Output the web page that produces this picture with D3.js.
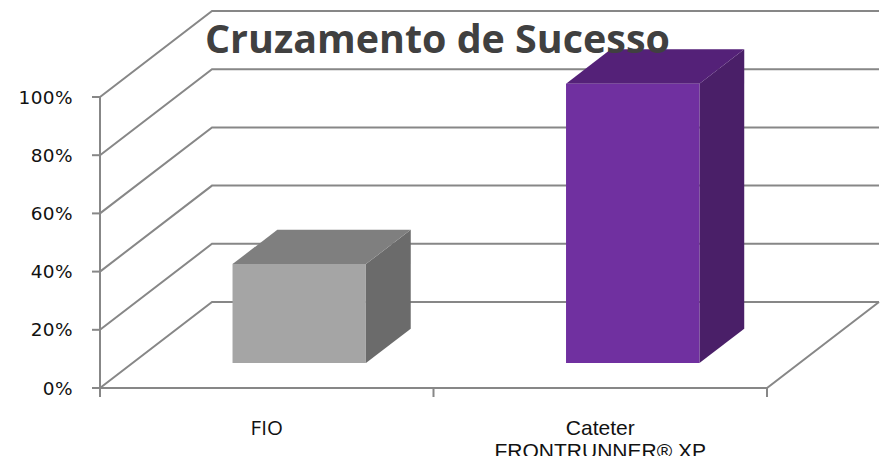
<!DOCTYPE html>
<html>
<head>
<meta charset="utf-8">
<script src="https://cdn.jsdelivr.net/npm/d3@7"></script>
<style>
  html, body { margin: 0; padding: 0; background: #fff; overflow: hidden; }
</style>
</head>
<body>
<svg id="chart"></svg>
<script>
// chart data
const categories = ["FIO", "Cateter\nFRONTRUNNER® XP"];
const values = [0.34, 0.96];
const yTicks = [0, 0.2, 0.4, 0.6, 0.8, 1.0];
const titleText = "Cruzamento de Sucesso";

// colours per bar: front, top, side
const barColors = [
    {front: "#a5a5a5", top: "#7f7f7f", side: "#6b6b6b"},
    {front: "#7030a0", top: "#542178", side: "#4a1f68"}
];

const width = 886, height = 456;
const svg = d3.select("#chart").attr("width", width).attr("height", height);

// 3d depth offset of the back wall
const DX = 112, DY = -86;
const proj = (x, y, d) => [x + d * DX, y + d * DY];

const xScale = d3.scaleBand()
    .domain(categories)
    .range([100, 767]);

const yScale = d3.scaleLinear()
    .domain([0, 1])
    .range([388, 97]);

const gridColor = "#878787";

// back wall + side gridlines
const grid = svg.append("g").attr("class", "grid");
grid.selectAll("polyline")
    .data(yTicks).enter()
    .append("polyline")
    .attr("fill", "none")
    .attr("stroke", gridColor)
    .attr("stroke-width", 2)
    .attr("points", t => {
        const y = yScale(t);
        const a = proj(100, y, 0), b = proj(100, y, 1), c = proj(767, y, 1);
        return [a, b, c].map(p => p.join(",")).join(" ");
    });

// floor front and right edges
const x0 = xScale.range()[0], x1 = xScale.range()[1];
grid.append("polyline")
    .attr("fill", "none")
    .attr("stroke", gridColor)
    .attr("stroke-width", 2)
    .attr("points", [[x0, yScale(0)], [x1, yScale(0)], proj(x1, yScale(0), 1)].map(p => p.join(",")).join(" "));

// vertical axis line
grid.append("line")
    .attr("stroke", gridColor)
    .attr("stroke-width", 2)
    .attr("x1", x0).attr("x2", x0)
    .attr("y1", yScale(1)).attr("y2", yScale(0));

// y ticks
grid.selectAll("line.ytick")
    .data(yTicks).enter()
    .append("line")
    .attr("class", "ytick")
    .attr("stroke", gridColor)
    .attr("stroke-width", 2)
    .attr("x1", x0 - 8).attr("x2", x0)
    .attr("y1", t => yScale(t)).attr("y2", t => yScale(t));

// x ticks on band edges
const xEdges = categories.map(c => xScale(c)).concat([x1]);
grid.selectAll("line.xtick")
    .data(xEdges).enter()
    .append("line")
    .attr("class", "xtick")
    .attr("stroke", gridColor)
    .attr("stroke-width", 2)
    .attr("x1", d => d).attr("x2", d => d)
    .attr("y1", yScale(0)).attr("y2", yScale(0) + 9);

// y labels
svg.append("g")
    .selectAll("text")
    .data(yTicks).enter()
    .append("text")
    .attr("x", 73)
    .attr("y", t => yScale(t))
    .attr("dy", "0.36em")
    .attr("text-anchor", "end")
    .attr("font-family", "'DejaVu Sans', sans-serif")
    .attr("font-size", 18.5)
    .attr("letter-spacing", 0.4)
    .attr("fill", "#111")
    .text(t => d3.format(".0%")(t));

// bars as boxes
const barFrac = 0.4, dStart = 0.29, dDepth = 0.4;
const bars = svg.append("g").attr("class", "bars");
categories.forEach((c, i) => {
    const bw = xScale.bandwidth() * barFrac;
    const left = xScale(c) + (xScale.bandwidth() - bw) / 2;
    const right = left + bw;
    const yb = yScale(0), yt = yScale(values[i]);
    const col = barColors[i];
    const pts = a => a.map(p => p.join(",")).join(" ");
    const fBL = proj(left, yb, dStart), fBR = proj(right, yb, dStart);
    const fTL = proj(left, yt, dStart), fTR = proj(right, yt, dStart);
    const bBR = proj(right, yb, dStart + dDepth);
    const bTL = proj(left, yt, dStart + dDepth), bTR = proj(right, yt, dStart + dDepth);

    bars.append("polygon").attr("points", pts([fTR, bTR, bBR, fBR])).attr("fill", col.side);
    bars.append("polygon").attr("points", pts([fTL, bTL, bTR, fTR])).attr("fill", col.top);
    bars.append("polygon").attr("points", pts([fTL, fTR, fBR, fBL])).attr("fill", col.front);
});

// category labels
const xl = svg.append("g");
categories.forEach((c, i) => {
    const lines = c.split("\n");
    const t = xl.append("text")
        .attr("x", xScale(c) + xScale.bandwidth() / 2)
        .attr("y", 435)
        .attr("text-anchor", "middle")
        .attr("font-family", i === 0 ? "'Open Sans', sans-serif" : "'Liberation Sans', Arial, sans-serif")
        .attr("font-size", i === 0 ? 20.5 : 21)
        .attr("fill", "#111");
    lines.forEach((l, k) => {
        t.append("tspan")
            .attr("x", xScale(c) + xScale.bandwidth() / 2)
            .attr("dy", k === 0 ? 0 : 23)
            .text(l);
    });
});

// title
const title = svg.append("text")
    .attr("x", 205)
    .attr("y", 53)
    .attr("font-family", "'Open Sans', sans-serif")
    .attr("font-weight", "bold")
    .attr("font-size", 36)
    .attr("fill", "#404040")
    .text(titleText);
const tw = title.node().getComputedTextLength();
title.attr("font-size", 36 * 465 / tw);
</script>
</body>
</html>
